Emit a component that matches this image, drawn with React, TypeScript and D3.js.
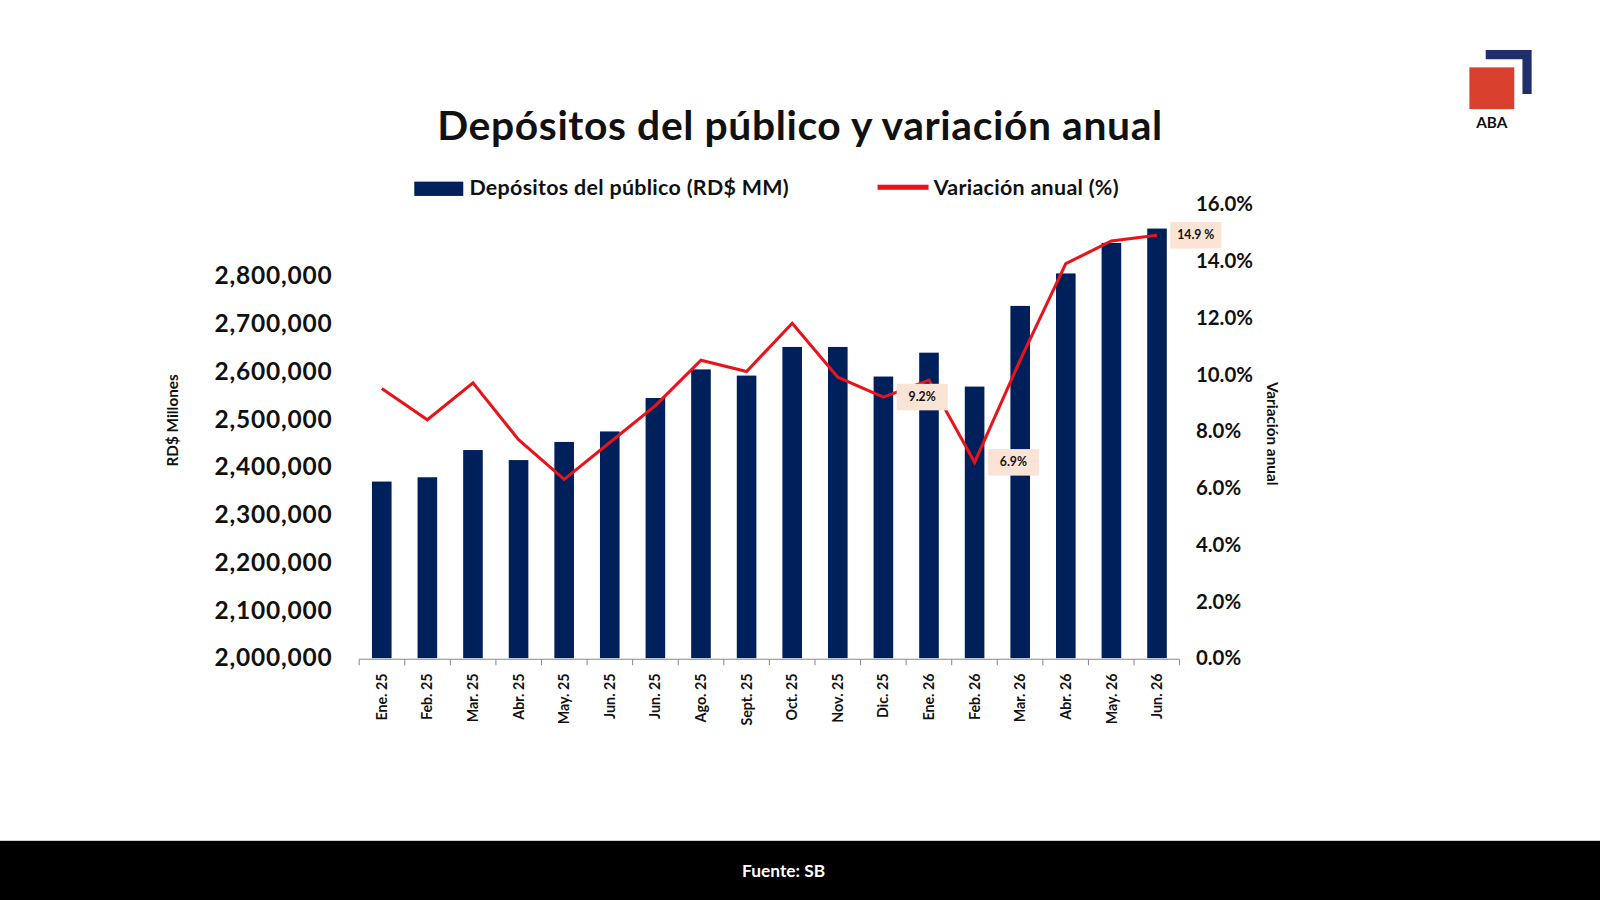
import React from "react";
import * as d3 from "d3";

const categories = ["Ene. 25","Feb. 25","Mar. 25","Abr. 25","May. 25","Jun. 25","Jun. 25","Ago. 25","Sept. 25","Oct. 25","Nov. 25","Dic. 25","Ene. 26","Feb. 26","Mar. 26","Abr. 26","May. 26","Jun. 26"];
const deposits = [2370000,2379000,2436000,2415000,2453000,2475000,2545000,2605000,2592000,2652000,2652000,2590000,2640000,2569000,2738000,2806000,2870000,2900000];
const variation = [9.5,8.4,9.7,7.7,6.3,7.6,8.9,10.5,10.1,11.8,9.9,9.2,9.8,6.9,10.5,13.9,14.7,14.9];
const leftTicks = [2000000,2100000,2200000,2300000,2400000,2500000,2600000,2700000,2800000];
const rightTicks = [0,2,4,6,8,10,12,14,16];
const labelled = [{i:11,text:"9.2%"},{i:13,text:"6.9%"},{i:17,text:"14.9 %"}];

const FONT = "Lato, 'Open Sans', sans-serif";
const NAVY = "#00205b";

export default function App() {
  const x = d3.scaleBand<number>().domain(d3.range(categories.length)).range([352,1156]).paddingInner(0.57).paddingOuter(0.28);
  const step = (1156-352)/categories.length;
  const yL = d3.scaleLinear().domain([2000000,2900000]).range([645,224]);
  const yR = d3.scaleLinear().domain([0,16]).range([645,200]);
  const line = d3.line<number>().x((_,i)=>x(i)!+x.bandwidth()/2).y(d=>yR(d));
  const fmt = d3.format(",");
  return (
    <svg width={1600} height={900} viewBox="0 0 1568 882" style={{position:"fixed",left:0,top:0,background:"#fff"}} fontFamily={FONT}>
      <rect width={1568} height={882} fill="#fff"/>
      <text x={784} y={137} textAnchor="middle" fontSize={40} fontWeight={700} letterSpacing={0.6} fill="#111">Depósitos del público y variación anual</text>
      <path d="M1456 49 H1501 V92 H1492 V58 H1456 Z" fill="#1f2f6b"/>
      <rect x={1440} y={66} width={44} height={41} fill="#d9402e"/>
      <text x={1462} y={125} textAnchor="middle" fontSize={15} fontWeight={700} fill="#111">ABA</text>
      <rect x={406} y={178} width={48} height={14} fill={NAVY}/>
      <text x={460} y={191} fontSize={21} fontWeight={700} letterSpacing={0.3} fill="#111">Depósitos del público (RD$ MM)</text>
      <rect x={860} y={181} width={50} height={5} fill="#e8141b"/>
      <text x={915} y={191} fontSize={21} fontWeight={700} letterSpacing={0.3} fill="#111">Variación anual (%)</text>
      {deposits.map((v,i)=>(<rect key={i} x={x(i)} y={yL(v)} width={x.bandwidth()} height={645-yL(v)} fill={NAVY}/>))}
      <line x1={352} x2={1156} y1={646} y2={646} stroke="#888"/>
      {d3.range(categories.length+1).map(i=>(<line key={i} x1={352+i*step} x2={352+i*step} y1={646} y2={652} stroke="#888"/>))}
      {categories.map((c,i)=>(<text key={i} transform={`translate(${x(i)!+x.bandwidth()/2+5},${660}) rotate(-90)`} textAnchor="end" fontSize={14} fontWeight={700} fill="#111">{c}</text>))}
      {leftTicks.map(t=>(<text key={t} x={326} y={yL(t)+8} textAnchor="end" fontSize={24} fontWeight={700} letterSpacing={0.8} fill="#111">{fmt(t)}</text>))}
      {rightTicks.map(t=>(<text key={t} x={1172} y={yR(t)+7} fontSize={20} fontWeight={700} fill="#111">{t.toFixed(1)}%</text>))}
      <text transform="translate(174,412) rotate(-90)" textAnchor="middle" fontSize={15} fontWeight={700} fill="#111">RD$ Millones</text>
      <text transform="translate(1242,425) rotate(90)" textAnchor="middle" fontSize={15} fontWeight={700} fill="#111">Variación anual</text>
      <path d={line(variation)!} fill="none" stroke="#e8141b" strokeWidth={3}/>
      {labelled.map(l=>{
        const cx = x(l.i)!+x.bandwidth()/2 + 38;
        const cy = yR(variation[l.i]);
        return (<g key={l.i}>
          <rect x={cx-25} y={cy-13} width={50} height={26} fill="#fbe3d6"/>
          <text x={cx} y={cy+4} textAnchor="middle" fontSize={12} fontWeight={700} fill="#111">{l.text}</text>
        </g>);
      })}
      <rect x={0} y={824} width={1568} height={58} fill="#000"/>
      <text x={768} y={859} textAnchor="middle" fontSize={17} fontWeight={700} fill="#fff">Fuente: SB</text>
    </svg>
  );
}
